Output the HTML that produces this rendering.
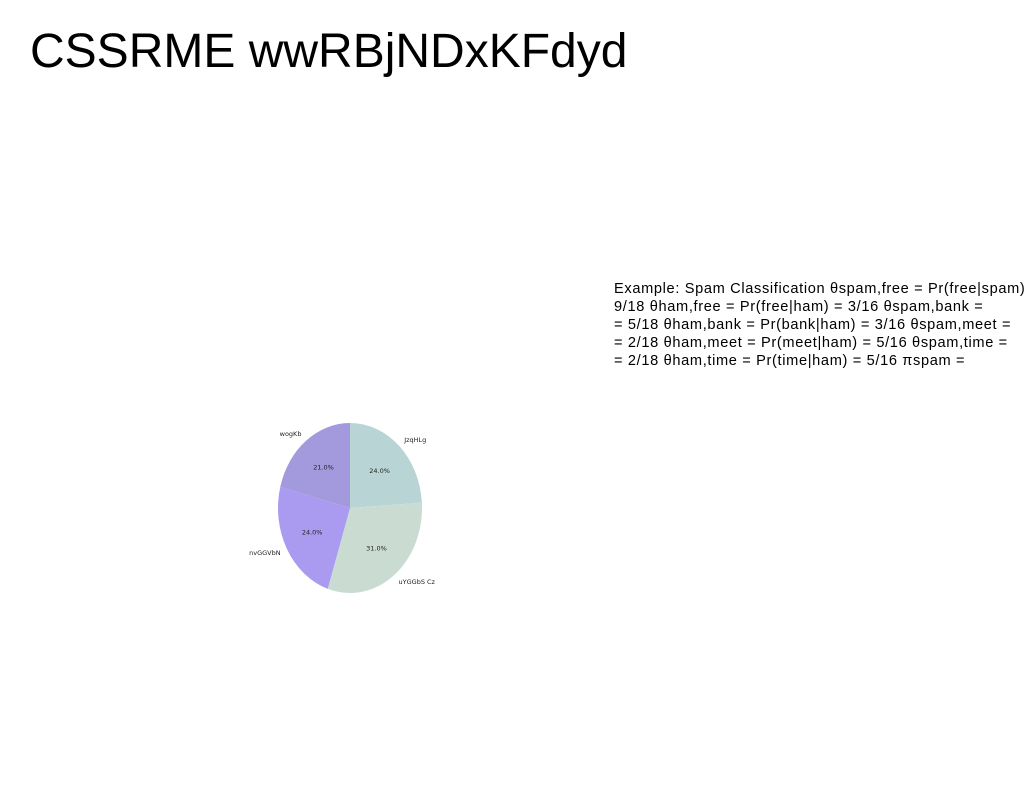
<!DOCTYPE html>
<html><head><meta charset="utf-8">
<style>
body{margin:0;width:1024px;height:788px;background:#fff;overflow:hidden;position:relative;font-family:"Liberation Sans",sans-serif;}
#title{position:absolute;left:30px;top:24px;font-size:48px;color:#000;white-space:nowrap;}
#note{position:absolute;left:614px;top:280px;font-size:14.6px;line-height:18px;color:#000;white-space:nowrap;letter-spacing:0.65px;}
svg{position:absolute;left:0;top:0;}
</style></head>
<body>
<div id="title">CSSRME wwRBjNDxKFdyd</div>
<div id="note">Example: Spam Classification θspam,free = Pr(free|spam)<br>9/18 θham,free = Pr(free|ham) = 3/16 θspam,bank =<br>= 5/18 θham,bank = Pr(bank|ham) = 3/16 θspam,meet =<br>= 2/18 θham,meet = Pr(meet|ham) = 5/16 θspam,time =<br>= 2/18 θham,time = Pr(time|ham) = 5/16 πspam =</div>
<svg id="pie" width="1024" height="788"></svg>
<script>
const labels = ["JzqHLg","uYGGbS Cz","nvGGVbN","wogKb"];
const values = [24,31,24,21];
const colors = ["#b9d4d4","#cadcd2","#aa9af0","#a39ade"];
const cx=350, cy=508, rx=72, ry=85;
const svg=document.getElementById('pie');
const NS="http://www.w3.org/2000/svg";
const total=values.reduce((a,b)=>a+b,0);
function pt(f,s){const a=f*2*Math.PI;return [cx+rx*s*Math.sin(a),cy-ry*s*Math.cos(a)];}
let acc=0;
values.forEach((v,i)=>{
  const f0=acc/total, f1=(acc+v)/total; acc+=v;
  const p0=pt(f0,1), p1=pt(f1,1);
  const large=(f1-f0)>0.5?1:0;
  const path=document.createElementNS(NS,'path');
  path.setAttribute('d',`M${cx},${cy} L${p0[0]},${p0[1]} A${rx},${ry} 0 ${large} 1 ${p1[0]},${p1[1]} Z`);
  path.setAttribute('fill',colors[i]);
  
  
  svg.appendChild(path);
  const fm=(f0+f1)/2;
  const lp=pt(fm,1.1);
  const t=document.createElementNS(NS,'text');
  t.setAttribute('x',lp[0]);t.setAttribute('y',lp[1]+2);
  t.setAttribute('font-size','6.5');t.setAttribute('fill','#222');
  t.setAttribute('font-family','DejaVu Sans, sans-serif');
  t.setAttribute('text-anchor',Math.sin(fm*2*Math.PI)>=0?'start':'end');
  t.textContent=labels[i];
  
  
  svg.appendChild(t);
  const pp=pt(fm,0.6);
  const t2=document.createElementNS(NS,'text');
  t2.setAttribute('x',pp[0]);t2.setAttribute('y',pp[1]+2);
  t2.setAttribute('font-size','6.5');t2.setAttribute('fill','#222');
  t2.setAttribute('font-family','DejaVu Sans, sans-serif');
  t2.setAttribute('text-anchor','middle');
  t2.textContent=(v/total*100).toFixed(1)+'%';
  
  
  svg.appendChild(t2);
});
</script>
</body></html>
